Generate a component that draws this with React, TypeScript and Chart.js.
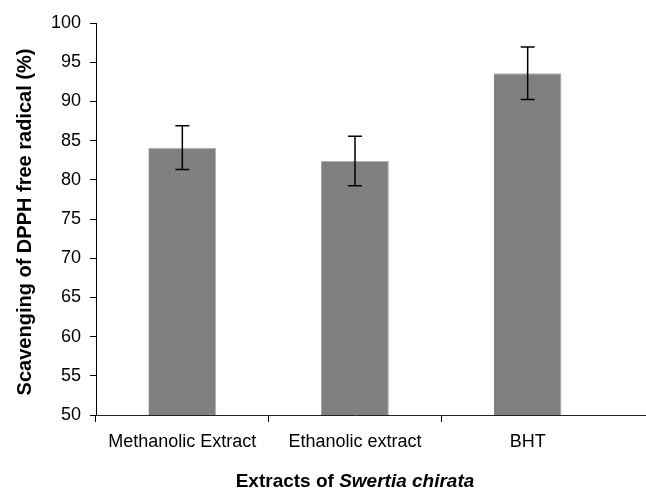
import React, { useEffect, useRef } from "react";
import { Chart, registerables } from "chart.js";

Chart.register(...registerables);

const categories = ["Methanolic Extract", "Ethanolic extract", "BHT"];
const scavenging = [84.1, 82.4, 93.6];
const errors = [2.8, 3.15, 3.35];
const yMin = 50;
const yMax = 100;
const yStep = 5;
const yTitle = "Scavenging of DPPH free radical (%)";
const xTitlePlain = "Extracts of ";
const xTitleItalic = "Swertia chirata";

const FONT = "'Liberation Sans', Arial, Helvetica, sans-serif";

const errorBarPlugin = {
  id: "errorBars",
  afterDatasetsDraw(chart: any) {
    const meta = chart.getDatasetMeta(0);
    const y = chart.scales.y;
    const ctx = chart.ctx;
    ctx.save();
    ctx.strokeStyle = "#000";
    ctx.lineWidth = 1.5;
    meta.data.forEach((bar: any, i: number) => {
      const v = scavenging[i];
      const e = errors[i];
      const top = y.getPixelForValue(v + e);
      const bot = y.getPixelForValue(v - e);
      const x = bar.x;
      ctx.beginPath();
      ctx.moveTo(x, top);
      ctx.lineTo(x, bot);
      ctx.moveTo(x - 7, top);
      ctx.lineTo(x + 7, top);
      ctx.moveTo(x - 7, bot);
      ctx.lineTo(x + 7, bot);
      ctx.stroke();
    });
    ctx.restore();
  },
};

const titlesPlugin = {
  id: "titles",
  afterDraw(chart: any) {
    const ctx = chart.ctx;
    const area = chart.chartArea;
    ctx.save();
    // extend x axis line to the right edge
    ctx.fillStyle = "#222";
    const xs = chart.scales.x;
    ctx.fillRect(area.right - 1, Math.floor(xs.top), 700, 1);

    // y title
    ctx.fillStyle = "#000";
    ctx.font = `bold 20px ${FONT}`;
    ctx.textAlign = "center";
    ctx.textBaseline = "middle";
    ctx.translate(25, 222);
    ctx.rotate(-Math.PI / 2);
    ctx.fillText(yTitle, 0, 0);
    ctx.setTransform(1, 0, 0, 1, 0, 0);

    // x title with italic part
    const boldFont = `bold 19px ${FONT}`;
    const italicFont = `italic bold 19px ${FONT}`;
    ctx.font = boldFont;
    const w1 = ctx.measureText(xTitlePlain).width;
    ctx.font = italicFont;
    const w2 = ctx.measureText(xTitleItalic).width;
    const cx = (area.left + area.right) / 2;
    const startX = cx - (w1 + w2) / 2;
    ctx.textAlign = "left";
    ctx.textBaseline = "alphabetic";
    ctx.font = boldFont;
    ctx.fillText(xTitlePlain, startX, 487);
    ctx.font = italicFont;
    ctx.fillText(xTitleItalic, startX + w1, 487);
    ctx.restore();
  },
};

export default function App() {
  const canvasRef = useRef<HTMLCanvasElement | null>(null);

  useEffect(() => {
    if (!canvasRef.current) return;
    const chart = new Chart(canvasRef.current, {
      type: "bar",
      data: {
        labels: categories,
        datasets: [
          {
            data: scavenging,
            backgroundColor: "#808080",
            borderColor: "#b0b0b0",
            borderWidth: { top: 1, right: 1, left: 0, bottom: 0 },
            categoryPercentage: 1,
            barPercentage: 0.392,
          },
        ],
      },
      options: {
        animation: false,
        responsive: false,
        maintainAspectRatio: false,
        layout: { padding: { top: 23, right: 32, left: 0, bottom: 0 } },
        plugins: {
          legend: { display: false },
          tooltip: { enabled: false },
          title: { display: false },
        },
        scales: {
          x: {
            offset: true,
            grid: {
              offset: true,
              drawOnChartArea: false,
              tickLength: 7,
              tickColor: (ctx: any) =>
                ctx.type === "tick" ? "#000" : "rgba(0,0,0,0)",
            },
            border: { color: "#222", width: 1 },
            ticks: {
              color: "#000",
              font: { family: FONT, size: 18 },
              padding: 9,
              maxRotation: 0,
              autoSkip: false,
            },
            afterFit(scale: any) {
              scale.height = 75;
            },
          },
          y: {
            min: yMin,
            max: yMax,
            grid: {
              drawOnChartArea: false,
              tickLength: 6,
              color: "#000",
            },
            border: { color: "#000", width: 1 },
            ticks: {
              stepSize: yStep,
              color: "#000",
              font: { family: FONT, size: 18 },
              padding: 9,
            },
            afterFit(scale: any) {
              scale.width = 96;
            },
          },
        },
      },
      plugins: [errorBarPlugin, titlesPlugin],
    });
    return () => chart.destroy();
  }, []);

  return (
    <div style={{ position: "absolute", left: 0, top: 0, width: 646, height: 490, background: "#fff" }}>
      <canvas ref={canvasRef} width={646} height={490} style={{ width: 646, height: 490 }} />
    </div>
  );
}
